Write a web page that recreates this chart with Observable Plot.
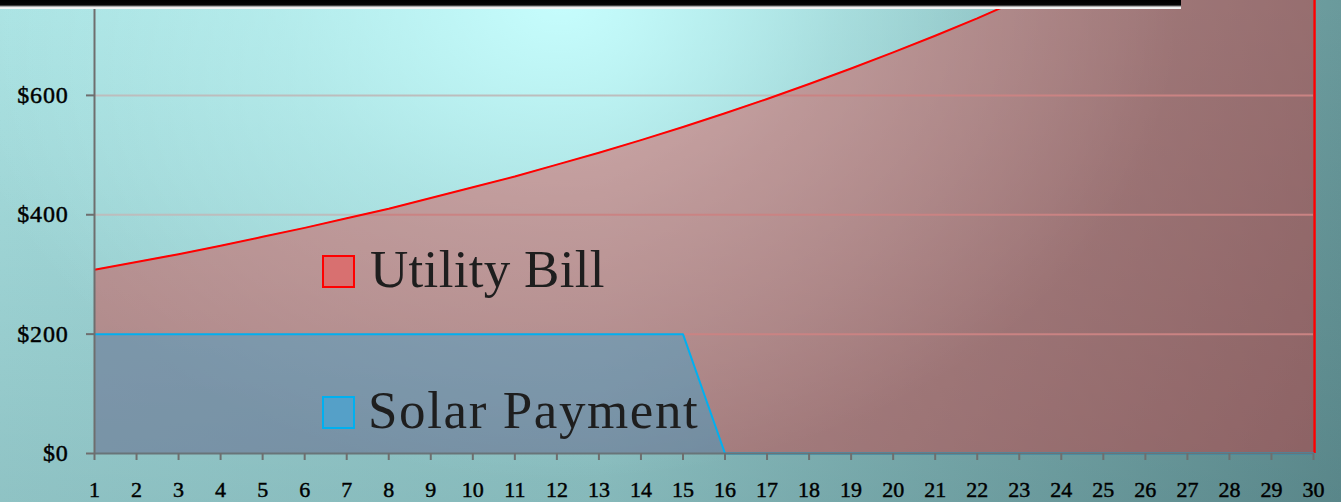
<!DOCTYPE html>
<html>
<head>
<meta charset="utf-8">
<script src="https://cdn.jsdelivr.net/npm/d3@7"></script>
<script src="https://cdn.jsdelivr.net/npm/@observablehq/plot@0.6"></script>
<style>
  html, body { margin: 0; padding: 0; overflow: hidden; }
  #wrap {
    position: relative; width: 1341px; height: 502px; overflow: hidden;
    background:
      radial-gradient(ellipse 620px 480px at 560px 0px, rgba(200,255,255,0.95) 0%, rgba(200,255,255,0.45) 45%, rgba(200,255,255,0) 100%),
      linear-gradient(to bottom, rgba(0,30,40,0) 0%, rgba(0,30,40,0.16) 100%),
      linear-gradient(to right, #aae2e2 0%, #9fd6d6 45%, #86babb 70%, #6a9a9c 100%);
  }
  #topbar {
    position: absolute; left: 0; top: 0; width: 1181px; height: 9px;
    background: linear-gradient(to bottom, #000 0px, #050505 5px, #777 6px, #ddd 7px, #fff 8px, #e8e8e8 9px);
  }
</style>
</head>
<body>
<div id="wrap"></div>
<script>
const years = [1,2,3,4,5,6,7,8,9,10,11,12,13,14,15,16,17,18,19,20,21,22,23,24,25,26,27,28,29,30];
const utilityBill = [308,321,334,348,363,378,394,410,428,446,464,484,504,525,547,570,594,619,645,672,700,729,760,792,825,859,895,933,972,1013];
const solarPayment = [200,200,200,200,200,200,200,200,200,200,200,200,200,200,200,0,0,0,0,0,0,0,0,0,0,0,0,0,0,0];
const yTicks = [0,200,400,600];
const seriesNames = ["Utility Bill", "Solar Payment"];

const data = years.map((year, i) => ({year, utility: utilityBill[i], solar: solarPayment[i]}));
const last = data[data.length - 1];
const yMax = 759;
const font = "'Liberation Serif', 'DejaVu Serif', serif";

const chart = Plot.plot({
  width: 1341, height: 502,
  marginLeft: 94, marginRight: 28, marginTop: 0, marginBottom: 49,
  style: {background: "transparent", fontFamily: font, overflow: "visible"},
  x: {type: "linear", domain: [years[0], years[years.length - 1]], label: null},
  y: {domain: [0, yMax], label: null},
  marks: [
    Plot.gridY(yTicks.slice(1), {stroke: "#bdbdbd", strokeOpacity: 1, strokeWidth: 2}),
    Plot.areaY(data, {x: "year", y: "utility", fill: "#e02020", fillOpacity: 0.37, clip: true}),
    Plot.lineY(data, {x: "year", y: "utility", stroke: "#ff0000", strokeWidth: 2, clip: true}),
    Plot.ruleX([last], {x: "year", y1: 0, y2: d => Math.min(d.utility, yMax), dx: 1, stroke: "#ff0000", strokeWidth: 2.5}),
    Plot.areaY(data, {x: "year", y: "solar", fill: "#00b0f0", fillOpacity: 0.3}),
    Plot.lineY(data, {x: "year", y: "solar", stroke: "#00b0f0", strokeWidth: 2}),
    Plot.ruleX([years[0]], {stroke: "#6e6e6e", strokeWidth: 2}),
    Plot.ruleY([0], {stroke: "#687479", strokeWidth: 2}),
    Plot.axisY(yTicks, {tickSize: 8, tickPadding: 18, fontSize: 24, stroke: "#6e6e6e", strokeWidth: 2, fill: "#000", tickFormat: d => "$" + d}),
    Plot.axisX(years, {tickSize: 7, tickPadding: 21, fontSize: 22, stroke: "#6e6e6e", strokeWidth: 2, fill: "#000", tickFormat: d => String(d)})
  ]
});

// enforce tick label font sizes and a slightly heavier weight
const svg = d3.select(chart);
svg.selectAll("[aria-label='y-axis tick label']").attr("font-size", 24)
  .selectAll("text").attr("font-size", 24).attr("letter-spacing", "0.8")
  .attr("stroke", "#000").attr("stroke-width", 0.45);
svg.selectAll("[aria-label='x-axis tick label']").attr("font-size", 22)
  .selectAll("text").attr("font-size", 22)
  .attr("stroke", "#000").attr("stroke-width", 0.45);

// in-plot legend
const legend = svg.append("g").attr("font-family", font).attr("text-anchor", "start");
const items = [
  {name: seriesNames[0], fill: "#d87070", stroke: "#ff0000", top: 256, tx: 370, base: 287, ls: 0.3},
  {name: seriesNames[1], fill: "#55a0c8", stroke: "#00b0f0", top: 397, tx: 368, base: 428, ls: 1.6}
];
items.forEach(it => {
  legend.append("rect").attr("x", 323).attr("y", it.top).attr("width", 31).attr("height", 31)
    .attr("fill", it.fill).attr("stroke", it.stroke).attr("stroke-width", 2);
  legend.append("text").attr("x", it.tx).attr("y", it.base).attr("font-size", 53)
    .attr("letter-spacing", it.ls)
    .attr("text-anchor", "start").attr("fill", "#1e1e1e").text(it.name);
});

const wrap = document.getElementById("wrap");
wrap.appendChild(chart);
const bar = document.createElement("div");
bar.id = "topbar";
wrap.appendChild(bar);
</script>
</body>
</html>
